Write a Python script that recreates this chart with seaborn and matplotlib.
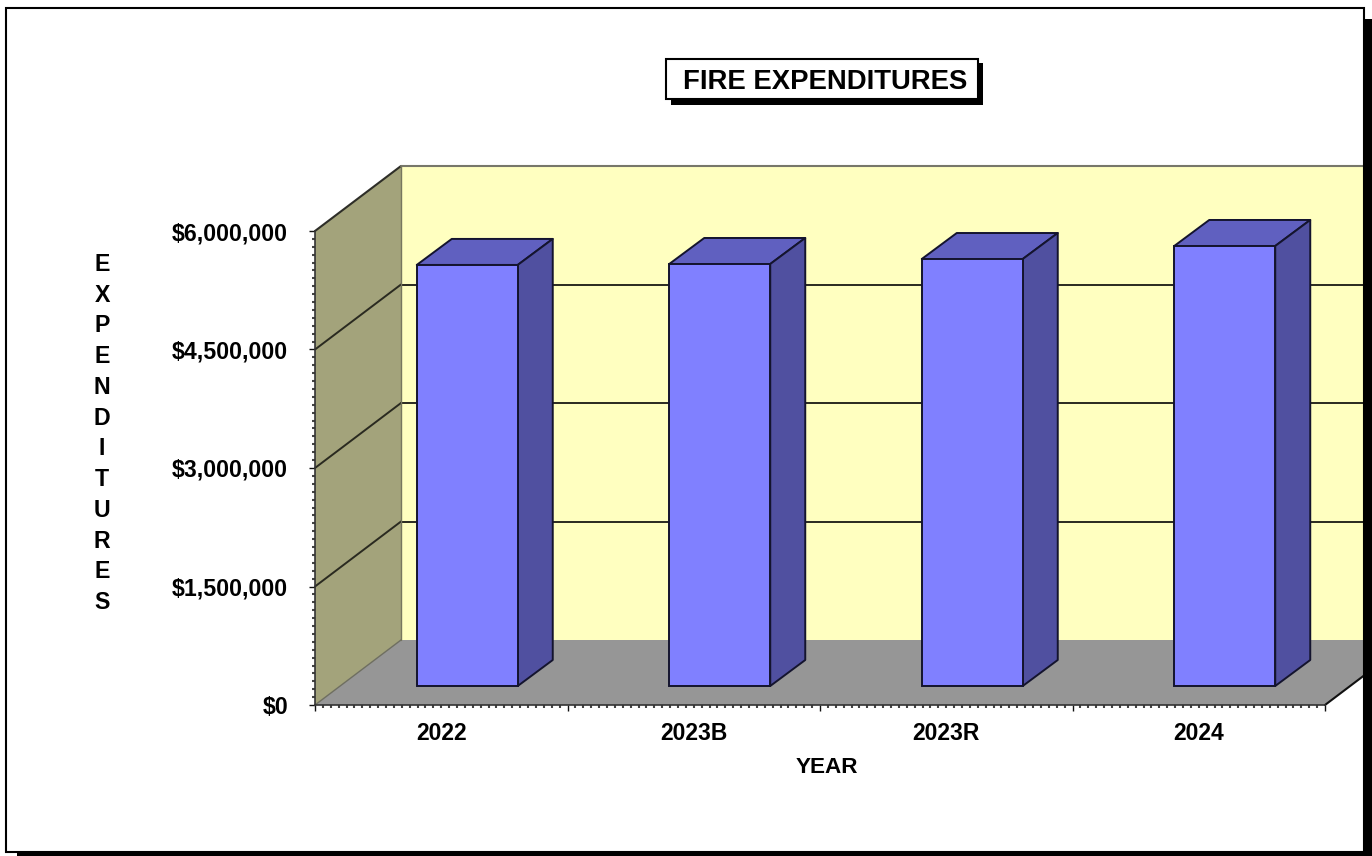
import numpy as np
import matplotlib
matplotlib.use("Agg")
import matplotlib.pyplot as plt
from matplotlib.patches import Polygon, Rectangle
from matplotlib.transforms import Affine2D, IdentityTransform, offset_copy
import pandas as pd
import seaborn as sns

# Chart data
years = ["2022", "2023B", "2023R", "2024"]
expenditures = [5330000, 5342000, 5405000, 5570000]
y_ticks = [0, 1500000, 3000000, 4500000, 6000000]
y_tick_labels = ["$0", "$1,500,000", "$3,000,000", "$4,500,000", "$6,000,000"]

# Colours of the box-like scene
WALL = "#FFFFC0"
SIDE_WALL = "#A3A37B"
FLOOR = "#969696"
BAR_FRONT = "#8080FF"
BAR_TOP = "#6060C0"
BAR_SIDE = "#5050A0"
BAR_EDGE = "#14142E"
GRID = "#2A2A20"

# Oblique projection, in pixels
SCENE_DX, SCENE_DY = 86, 65
BAR_BASE_DX, BAR_BASE_DY = 26, 19
BAR_DX, BAR_DY = 35, 26

W, H = 1372, 856
sns.set_theme(style="ticks")
plt.rcParams["font.family"] = ["Liberation Sans", "DejaVu Sans"]
plt.rcParams["font.weight"] = "bold"
plt.rcParams["text.color"] = "black"
plt.rcParams["axes.labelcolor"] = "black"
plt.rcParams["xtick.labelcolor"] = "black"
plt.rcParams["ytick.labelcolor"] = "black"

fig = plt.figure(figsize=(W / 100, H / 100), dpi=100, facecolor="white")
ax = fig.add_axes([315 / W, (H - 705) / H, 1010 / W, 474 / H], facecolor="none")

frame = pd.DataFrame({"year": years, "expenditure": expenditures})
sns.barplot(data=frame, x="year", y="expenditure", width=0.4, color=BAR_FRONT,
            saturation=1, edgecolor=BAR_EDGE, linewidth=1.4, ax=ax, zorder=4)
ax.set_xlim(-0.5, 3.5)
ax.set_ylim(0, 6000000)


def pt(x, y, dx=0, dy=0):
    """Display position of a data point pushed back by a pixel offset."""
    px, py = ax.transData.transform((x, y))
    return px + dx, py + dy


def quad(points, color, zorder, edge="none", lw=0):
    ax.add_patch(Polygon(points, closed=True, facecolor=color, edgecolor=edge,
                         linewidth=lw, transform=IdentityTransform(),
                         clip_on=False, zorder=zorder, joinstyle="round"))


def seg(a, b, color, lw, zorder, **kwargs):
    ax.plot([a[0], b[0]], [a[1], b[1]], color=color, lw=lw, zorder=zorder,
            transform=IdentityTransform(), clip_on=False, scalex=False, scaley=False,
            **kwargs)


x0, x1 = ax.get_xlim()
top = y_ticks[-1]
d = (SCENE_DX, SCENE_DY)

# Back wall, side wall and floor
quad([pt(x0, 0, *d), pt(x1, 0, *d), pt(x1, top, *d), pt(x0, top, *d)], WALL, 0.5)
quad([pt(x0, 0), pt(x0, 0, *d), pt(x0, top, *d), pt(x0, top)], SIDE_WALL, 0.6)
quad([pt(x0, 0), pt(x1, 0), pt(x1, 0, *d), pt(x0, 0, *d)], FLOOR, 0.7)

# Gridlines fold from the side wall onto the back wall
for v in y_ticks[1:-1]:
    seg(pt(x0, v), pt(x0, v, *d), GRID, 1.4, 1)
    seg(pt(x0, v, *d), pt(x1, v, *d), GRID, 1.4, 1)
seg(pt(x0, top), pt(x0, top, *d), "#2E2E28", 1.5, 1)
seg(pt(x0, top, *d), pt(x1, top, *d), "#77776A", 1.5, 1)
seg(pt(x0, 0, *d), pt(x0, top, *d), "#77775F", 1.0, 1)
seg(pt(x0, 0), pt(x0, 0, *d), "#6E6E60", 1.0, 1)
seg(pt(x1, 0), pt(x1, 0, *d), "#111111", 1.5, 1)

# Push the bars back onto the floor and add their top and side faces
bar_transform = offset_copy(ax.transData, fig=fig, x=BAR_BASE_DX, y=BAR_BASE_DY, units="dots")
for bar in ax.patches:
    if not isinstance(bar, Rectangle):
        continue
    bar.set_transform(bar_transform)
    bar.set_clip_on(False)
    left, right, h = bar.get_x(), bar.get_x() + bar.get_width(), bar.get_height()
    base = (BAR_BASE_DX, BAR_BASE_DY)
    back = (BAR_BASE_DX + BAR_DX, BAR_BASE_DY + BAR_DY)
    quad([pt(left, h, *base), pt(right, h, *base), pt(right, h, *back), pt(left, h, *back)],
         BAR_TOP, 3.5, BAR_EDGE, 1.4)
    quad([pt(right, 0, *base), pt(right, 0, *back), pt(right, h, *back), pt(right, h, *base)],
         BAR_SIDE, 3.5, BAR_EDGE, 1.4)

# Axes furniture
sns.despine(ax=ax)
for side in ("left", "bottom"):
    ax.spines[side].set_color("#333333")
    ax.spines[side].set_linewidth(1.2)

ax.set_yticks(y_ticks, y_tick_labels)
ax.set_yticks(np.arange(0, top + 1, 100000), minor=True)
ax.tick_params(axis="y", which="major", length=4.3, width=1.0, pad=15, color="#111111", labelsize=16.7)
ax.tick_params(axis="y", which="minor", length=2.0, width=1.5, color="#444444")

x_bounds = np.arange(x0, x1 + 0.01, 1)
x_minor = np.arange(x0, x1 + 0.001, 1 / 32)
x_minor_labels = [years[int(round(v))] if abs(v - round(v)) < 1e-9 else "" for v in x_minor]
ax.set_xticks(x_bounds, [""] * len(x_bounds))
ax.set_xticks(x_minor, x_minor_labels, minor=True)
ax.tick_params(axis="x", which="major", length=4.3, width=1.0, color="#111111")
ax.tick_params(axis="x", which="minor", length=2.0, width=1.5, pad=10.2, color="#444444", labelsize=16.5)
for label in ax.get_xticklabels(minor=True) + ax.get_yticklabels():
    label.set_fontweight("bold")

ax.set_xlabel("")
ax.set_ylabel("\n".join("EXPENDITURES"), rotation=0, fontsize=16.7, fontweight="bold",
              linespacing=1.43, ha="center", va="center")
ax.yaxis.set_label_coords(102 / W, (H - 433.5) / H, transform=fig.transFigure)

# Page furniture, positioned in top-down pixels
PX = Affine2D().scale(1 / W, -1 / H).translate(0, 1) + fig.transFigure


def page_rect(x, y, w, h, face, edge="none", lw=0, zorder=6):
    fig.add_artist(Rectangle((x, y), w, h, transform=PX, facecolor=face,
                             edgecolor=edge, linewidth=lw, zorder=zorder))


page_rect(6, 8, 1358, 844, "none", "black", 1.5)
page_rect(1364, 19, 8, 837, "black")
page_rect(17, 852, 1355, 4, "black")

page_rect(671, 63, 312, 42, "black", zorder=7)
page_rect(665.5, 58.5, 312, 40, "white", "black", 1.5, zorder=8)
fig.text(825, 79, "FIRE EXPENDITURES", transform=PX, ha="center", va="center_baseline",
         fontsize=19.8, fontweight="bold", color="black", zorder=9)
fig.text(827, 765, "YEAR", transform=PX, ha="center", va="center_baseline",
         fontsize=16.2, fontweight="bold", color="black", zorder=9)

fig.savefig("out.png", dpi=100)
